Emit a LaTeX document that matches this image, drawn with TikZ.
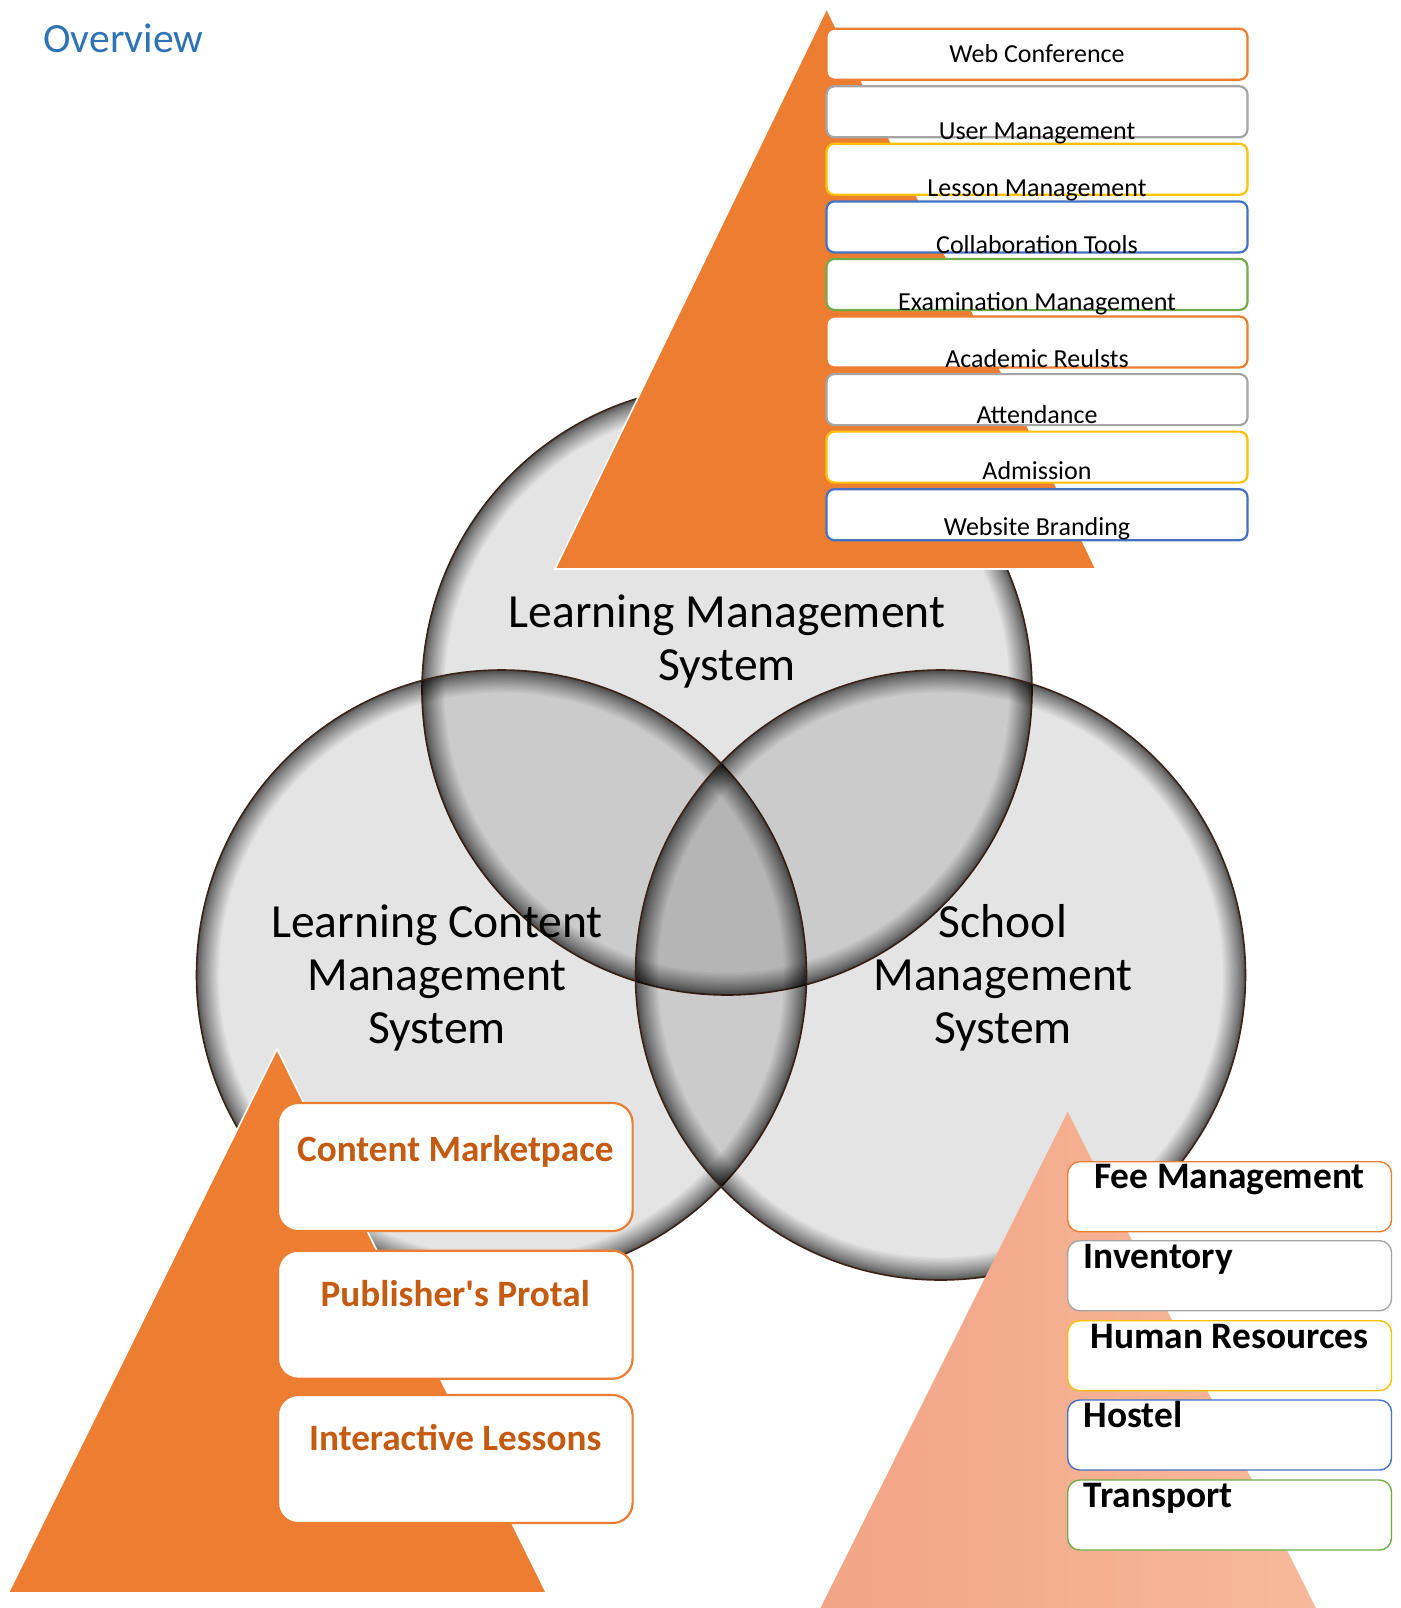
\documentclass[tikz,border=0pt]{standalone}
\usepackage{fontspec}
\setmainfont{Carlito}
\definecolor{accOrange}{HTML}{ED7D31}
\definecolor{accGray}{HTML}{A5A5A5}
\definecolor{accGold}{HTML}{FFC000}
\definecolor{accBlue}{HTML}{4472C4}
\definecolor{accGreen}{HTML}{70AD47}
\definecolor{darkOrange}{HTML}{C55A11}
\definecolor{titleBlue}{HTML}{2E74B5}
\definecolor{salmonA}{HTML}{F2A486}
\definecolor{salmonB}{HTML}{F7B99B}
\definecolor{rimLine}{RGB}{60,35,25}
\begin{document}
\begin{tikzpicture}[x=0.5pt,y=-0.5pt,
  tri/.style={fill=accOrange, draw=white, line width=0.8pt, line join=miter},
  topbox/.style={draw, fill=white, line width=1.1pt, rounded corners=4pt, minimum width=210.5pt, minimum height=25.5pt, inner sep=0pt},
  toptext/.style={font=\fontsize{13}{15}\selectfont, anchor=base, inner sep=0pt},
  lbox/.style={draw=accOrange, fill=white, line width=1.1pt, rounded corners=10pt, minimum width=177.3pt, minimum height=64pt, inner sep=0pt},
  ltext/.style={font=\bfseries\fontsize{18.6}{22}\selectfont, text=darkOrange, anchor=base, inner sep=0pt},
  rbox/.style={draw, fill=white, line width=0.7pt, rounded corners=6pt, minimum width=161.9pt, minimum height=35pt, inner sep=0pt},
  rtext/.style={font=\bfseries\fontsize{18.7}{22}\selectfont, anchor=base, inner sep=0pt},
  vlabel/.style={font=\fontsize{23.8}{26.3}\selectfont, align=center, anchor=base, inner sep=0pt}
]
\useasboundingbox (0,0) rectangle (1401,1608);
\fill[white] (0,0) rectangle (1401,1608);

% title
\node[anchor=base west, inner sep=0pt, text=titleBlue, font=\fontsize{20.8}{25}\selectfont] (title) at (43,52) {Overview};

% Venn circles
\foreach \cx/\cy in {727/690, 501.5/975, 940.5/975}{
  \fill[black, fill opacity=0.105] (\cx,\cy) circle[radius=152.5pt];
  \begin{scope}
    \clip (\cx,\cy) circle[radius=152.5pt];
    \foreach \k in {1,...,30}{
      \draw[black, draw opacity=0.035, line width={\k*\k*0.025pt}] (\cx,\cy) circle[radius=152.5pt];
    }
  \end{scope}
  \draw[rimLine, line width=0.8pt] (\cx,\cy) circle[radius=152.5pt];
}

% circle labels (anchor base = last line)
\node[vlabel] (lms) at (727,680) {Learning Management\\System};
\node[vlabel] (lcms) at (437,1043) {Learning Content\\Management\\System};
\node[vlabel] (sms) at (1003,1043) {School\\Management\\System};

% triangles
\path[tri] (826.7,8.2) -- (1096,569) -- (555,569) -- cycle;
\path[tri] (277,1049) -- (546.6,1593) -- (8.2,1593) -- cycle;
\shade[left color=salmonA, right color=salmonB] (1067.7,1111.8) -- (1316,1608) -- (820.5,1608) -- cycle;

% top boxes
\node[topbox, draw=accOrange] (t0) at (1037,54.2) {};
\node[topbox, draw=accGray]   (t1) at (1037,111.8) {};
\node[topbox, draw=accGold]   (t2) at (1037,169.3) {};
\node[topbox, draw=accBlue]   (t3) at (1037,226.9) {};
\node[topbox, draw=accGreen]  (t4) at (1037,284.4) {};
\node[topbox, draw=accOrange] (t5) at (1037,342.0) {};
\node[topbox, draw=accGray]   (t6) at (1037,399.6) {};
\node[topbox, draw=accGold]   (t7) at (1037,457.1) {};
\node[topbox, draw=accBlue]   (t8) at (1037,514.7) {};

\node[toptext] (t0l) at (1037,62.5) {Web Conference};
\node[toptext] (t1l) at (1037,139.3) {User Management};
\node[toptext] (t2l) at (1037,196.8) {Lesson Management};
\node[toptext] (t3l) at (1037,253.4) {Collaboration Tools};
\node[toptext] (t4l) at (1037,310.4) {Examination Management};
\node[toptext] (t5l) at (1037,367.5) {Academic Reulsts};
\node[toptext] (t6l) at (1037,423.6) {Attendance};
\node[toptext] (t7l) at (1037,479.6) {Admission};
\node[toptext] (t8l) at (1037,535.7) {Website Branding};

% bottom-left boxes
\node[lbox] (l0) at (455.3,1167) {};
\node[lbox] (l1) at (455.3,1314.7) {};
\node[lbox] (l2) at (455.3,1459) {};
\node[ltext] (l0l) at (455.3,1161.7) {Content Marketpace};
\node[ltext] (l1l) at (455.3,1306) {Publisher\textquotesingle s Protal};
\node[ltext] (l2l) at (455.3,1450) {Interactive Lessons};

% bottom-right boxes
\node[rbox, draw=accOrange] (r0) at (1229.6,1196.7) {};
\node[rbox, draw=accGray]   (r1) at (1229.6,1275.7) {};
\node[rbox, draw=accGold]   (r2) at (1229.6,1355.7) {};
\node[rbox, draw=accBlue]   (r3) at (1229.6,1435) {};
\node[rbox, draw=accGreen]  (r4) at (1229.6,1515) {};
\node[rtext] (r0l) at (1229.6,1188.5) {Fee Management};
\node[rtext, anchor=base west] (r1l) at (1083.3,1268) {Inventory};
\node[rtext] (r2l) at (1229.6,1348) {Human Resources};
\node[rtext, anchor=base west] (r3l) at (1083.3,1427.5) {Hostel};
\node[rtext, anchor=base west] (r4l) at (1083.3,1507.5) {Transport};
\end{tikzpicture}
\end{document}
